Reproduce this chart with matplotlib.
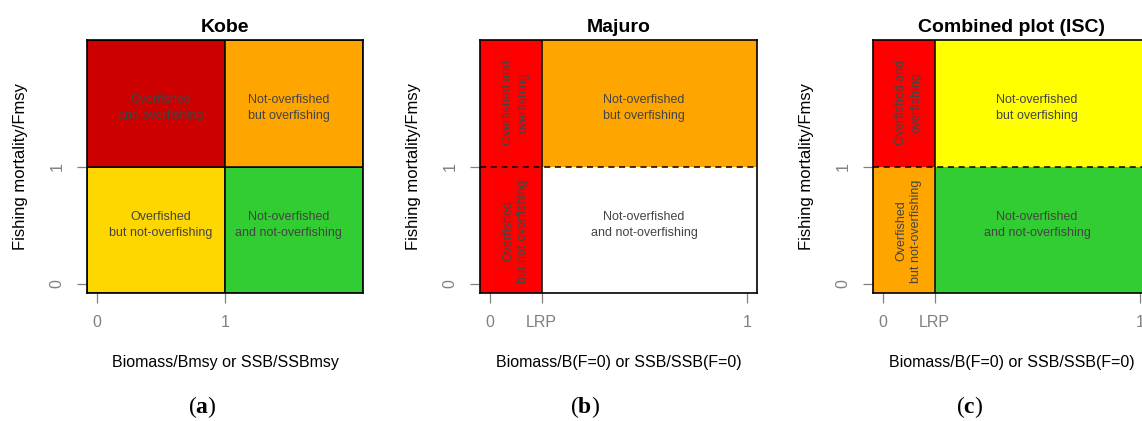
import matplotlib

matplotlib.use("Agg")
import matplotlib.pyplot as plt  # noqa: E402
from matplotlib.patches import Rectangle  # noqa: E402

plt.rcParams["font.family"] = ["Liberation Sans", "DejaVu Sans"]
plt.rcParams["mathtext.fontset"] = "custom"
plt.rcParams["mathtext.rm"] = "Liberation Serif"
plt.rcParams["mathtext.bf"] = "Liberation Serif:bold"

# ---- chart content ----
LRP = 0.2
y_edges = [0, 1, 2]          # Fishing mortality/Fmsy, split at 1
y_ticks = [0, 1]

kobe_x_edges = [0, 1, 2]
kobe_x_ticks = [0, 1]
kobe_x_ticklabels = ["0", "1"]
# rows bottom -> top, columns left -> right
kobe_colors = [["#FFD700", "#32CD32"], ["#CD0000", "#FFA500"]]
kobe_labels = [["Overfished\nbut not-overfishing", "Not-overfished\nand not-overfishing"],
               ["Overfished\nand overfishing", "Not-overfished\nbut overfishing"]]

lrp_x_edges = [0, LRP, 1]
lrp_x_ticks = [0, LRP, 1]
lrp_x_ticklabels = ["0", "LRP", "1"]
lrp_labels = [["Overfished\nbut not-overfishing", "Not-overfished\nand not-overfishing"],
              ["Overfished and\noverfishing", "Not-overfished\nbut overfishing"]]
majuro_colors = [["#FF0000", "#FFFFFF"], ["#FF0000", "#FFA500"]]
isc_colors = [["#FFA500", "#32CD32"], ["#FF0000", "#FFFF00"]]

TEXT_COL = "#444444"
TICK_COL = "#808080"


def draw_panel(ax, title, x_edges, colors, labels, xticks, xticklabels, xlabel,
               xlim, lrp_style=False):
    ylim = (-0.08, 2.08)
    ax.set_xlim(xlim)
    ax.set_ylim(ylim)
    nx = len(x_edges) - 1
    ny = len(y_edges) - 1
    for i in range(ny):
        y0 = ylim[0] if i == 0 else y_edges[i]
        y1 = ylim[1] if i == ny - 1 else y_edges[i + 1]
        for j in range(nx):
            x0 = xlim[0] if j == 0 else x_edges[j]
            x1 = xlim[1] if j == nx - 1 else x_edges[j + 1]
            ax.add_patch(Rectangle((x0, y0), x1 - x0, y1 - y0,
                                   facecolor=colors[i][j],
                                   edgecolor="none" if lrp_style else "black",
                                   linewidth=1.1, zorder=1))
            cx = (x_edges[j] + x_edges[j + 1]) / 2
            cy = (y_edges[i] + y_edges[i + 1]) / 2
            if lrp_style and j == 0:
                # narrow column: labels run vertically
                cy += -0.05 if i == 0 else 0.05
                ax.text(cx, cy, labels[i][j], rotation=90, ha="center",
                        va="center", fontsize=9, color=TEXT_COL,
                        linespacing=1.35, zorder=3)
            else:
                ax.text(cx, cy, labels[i][j], ha="center", va="center",
                        fontsize=9, color=TEXT_COL, linespacing=1.35, zorder=3)
    if lrp_style:
        for xv in x_edges[1:-1]:
            ax.plot([xv, xv], list(ylim), color="black", lw=1.1, zorder=2)
        for yv in y_edges[1:-1]:
            ax.plot(list(xlim), [yv, yv], color="black", lw=1.1,
                    ls=(0, (4, 3)), zorder=2)

    for sp in ax.spines.values():
        sp.set_linewidth(1.2)
        sp.set_color("black")
        sp.set_zorder(4)

    ax.set_xticks(xticks)
    ax.set_xticklabels(xticklabels)
    ax.set_yticks(y_ticks)
    ax.set_yticklabels([str(v) for v in y_ticks], rotation=90, va="center")
    ax.tick_params(length=7, width=0.9, color=TICK_COL, labelcolor=TICK_COL,
                   labelsize=11.5, pad=9)
    ax.set_title(title, fontsize=14, fontweight="bold", pad=6)
    ax.set_xlabel(xlabel, fontsize=11.5)
    ax.xaxis.set_label_coords(0.5, -0.245)
    ax.set_ylabel("Fishing mortality/Fmsy", fontsize=12)
    ax.yaxis.set_label_coords(-0.213, 0.5)


fig = plt.figure(figsize=(11.42, 4.21), dpi=100)
W, H = 1142, 421
bottom = 1 - 293 / H
height = (293 - 40) / H

ax_a = fig.add_axes([87 / W, bottom, 276 / W, height])
ax_b = fig.add_axes([480 / W, bottom, 277 / W, height])
ax_c = fig.add_axes([873 / W, bottom, 277 / W, height])

draw_panel(ax_a, "Kobe", kobe_x_edges, kobe_colors, kobe_labels,
           kobe_x_ticks, kobe_x_ticklabels, "Biomass/Bmsy or SSB/SSBmsy",
           (-0.08, 2.08))
draw_panel(ax_b, "Majuro", lrp_x_edges, majuro_colors, lrp_labels,
           lrp_x_ticks, lrp_x_ticklabels, "Biomass/B(F=0) or SSB/SSB(F=0)",
           (-0.04, 1.04), lrp_style=True)
draw_panel(ax_c, "Combined plot (ISC)", lrp_x_edges, isc_colors, lrp_labels,
           lrp_x_ticks, lrp_x_ticklabels, "Biomass/B(F=0) or SSB/SSB(F=0)",
           (-0.04, 1.04), lrp_style=True)

for xpix, tag in [(202, "a"), (585, "b"), (970, "c")]:
    fig.text(xpix / W, 1 - 407 / H, r"$\mathrm{(}\mathbf{%s}\mathrm{)}$" % tag,
             ha="center", va="center", fontsize=17)

fig.savefig("out.png", dpi=100)
